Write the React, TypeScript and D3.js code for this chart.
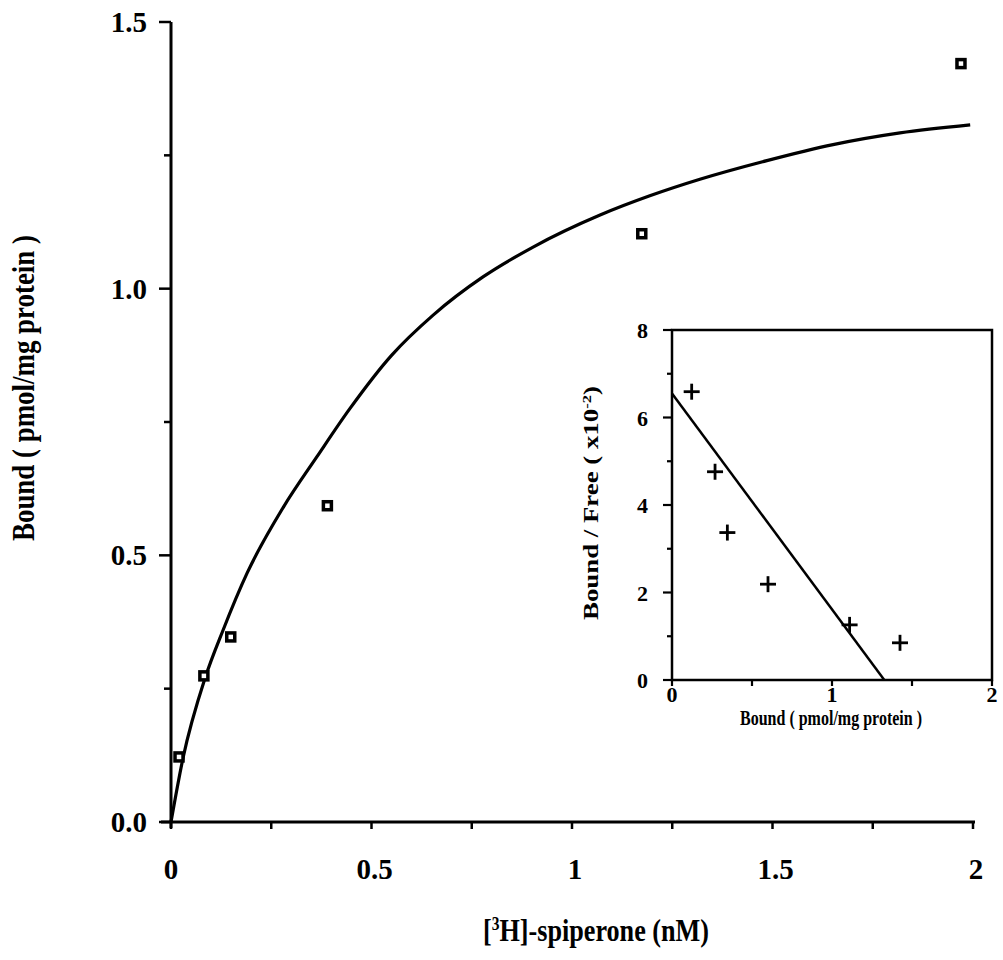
import React from "react";
import * as d3 from "d3";

// Saturation binding data: [3H]-spiperone (nM) vs bound (pmol/mg protein)
const concentration = [0.02, 0.082, 0.149, 0.39, 1.174, 1.97];
const bound = [0.122, 0.274, 0.347, 0.593, 1.103, 1.422];

// Fitted saturation curve, sampled along its length
const fitX = [0, 0.03, 0.085, 0.13, 0.19, 0.28, 0.364, 0.446, 0.55, 0.653, 0.778, 0.903, 1.07, 1.194, 1.319, 1.486, 1.651, 1.818, 1.993];
const fitY = [0, 0.12, 0.27, 0.36, 0.467, 0.59, 0.685, 0.775, 0.875, 0.95, 1.022, 1.078, 1.138, 1.174, 1.205, 1.24, 1.27, 1.292, 1.307];

// Scatchard transform (inset): bound vs bound/free (x10^-2)
const scatBound = [0.123, 0.269, 0.346, 0.6, 1.11, 1.425];
const scatRatio = [6.59, 4.76, 3.37, 2.19, 1.26, 0.85];
// Regression line end points
const scatLineX = [0, 1.327];
const scatLineY = [6.55, 0];

const mainXTicks = [0, 0.5, 1, 1.5, 2];
const mainXTickLabels = ["0", "0.5", "1", "1.5", "2"];
const mainYTicks = [0, 0.5, 1, 1.5];
const mainYTickLabels = ["0.0", "0.5", "1.0", "1.5"];
const insetXTicks = [0, 1, 2];
const insetYTicks = [0, 2, 4, 6, 8];

const FONT = "'Liberation Serif', 'DejaVu Serif', serif";

export default function App() {
  const x = d3.scaleLinear().domain([0, 2]).range([171, 973]);
  const y = d3.scaleLinear().domain([0, 1.5]).range([822, 22]);
  const xi = d3.scaleLinear().domain([0, 2]).range([672, 992]);
  const yi = d3.scaleLinear().domain([0, 8]).range([680, 330]);

  const fitPts: [number, number][] = fitX.map((v, i) => [v, fitY[i]]);
  const curve = d3
    .line<[number, number]>()
    .x((d) => x(d[0]))
    .y((d) => y(d[1]))
    .curve(d3.curveMonotoneX)(fitPts);

  const scatLine = d3
    .line<[number, number]>()
    .x((d) => xi(d[0]))
    .y((d) => yi(d[1]))(scatLineX.map((v, i) => [v, scatLineY[i]]));

  const mainXMinor = d3.range(0, 2.01, 0.25);
  const mainYMinor = d3.range(0, 1.51, 0.25);
  const insetXMinor = d3.range(0, 2.01, 0.5);
  const insetYMinor = d3.range(0, 8.01, 1);

  const sq = 8;

  return (
    <svg
      width={1003}
      height={960}
      style={{ position: "absolute", left: 0, top: 0, background: "#fff" }}
      fontFamily={FONT}
      fontWeight="bold"
    >
      {/* Main axes */}
      <line x1={x(0)} x2={x(0)} y1={y(1.5)} y2={y(0) + 6} stroke="#000" strokeWidth={3} />
      <line x1={x(0) - 10} x2={x(2) + 2} y1={y(0)} y2={y(0)} stroke="#000" strokeWidth={3} />
      {mainYMinor.map((t) => {
        const major = Math.abs(t * 2 - Math.round(t * 2)) < 1e-6;
        return (
          <line key={"my" + t} x1={x(0) - (major ? 12 : 7)} x2={x(0)} y1={y(t)} y2={y(t)} stroke="#000" strokeWidth={2.5} />
        );
      })}
      {mainXMinor.map((t) => (
        <line key={"mx" + t} x1={x(t)} x2={x(t)} y1={y(0)} y2={y(0) + 7} stroke="#000" strokeWidth={2.5} />
      ))}
      {mainYTicks.map((t, i) => (
        <text key={"myl" + t} x={147} y={y(t) + 10} textAnchor="end" fontSize={29}>
          {mainYTickLabels[i]}
        </text>
      ))}
      {mainXTicks.map((t, i) => (
        <text key={"mxl" + t} x={x(t) + (i === 0 ? 0 : 3)} y={879} textAnchor="middle" fontSize={29}>
          {mainXTickLabels[i]}
        </text>
      ))}
      <text x={483} y={941} fontSize={32} textLength={226} lengthAdjust="spacingAndGlyphs">
        [<tspan dy={-11} fontSize={19}>3</tspan>
        <tspan dy={11}>H]-spiperone (nM)</tspan>
      </text>
      <text
        transform="translate(34,388) rotate(-90)"
        textAnchor="middle"
        fontSize={32}
        textLength={306}
        lengthAdjust="spacingAndGlyphs"
      >
        Bound ( pmol/mg protein )
      </text>

      {/* Fitted saturation curve */}
      <path d={curve ?? ""} fill="none" stroke="#000" strokeWidth={3.2} />

      {/* Data points */}
      {concentration.map((c, i) => (
        <rect
          key={"pt" + i}
          x={x(c) - sq / 2}
          y={y(bound[i]) - sq / 2}
          width={sq}
          height={sq}
          fill="#fff"
          stroke="#000"
          strokeWidth={3.5}
        />
      ))}

      {/* Inset: Scatchard plot */}
      <rect x={xi(0)} y={yi(8)} width={xi(2) - xi(0)} height={yi(0) - yi(8)} fill="#fff" stroke="#000" strokeWidth={2.5} />
      {insetYMinor.map((t) => (
        <line key={"iy" + t} x1={xi(0) - (t % 2 === 0 ? 9 : 5)} x2={xi(0)} y1={yi(t)} y2={yi(t)} stroke="#000" strokeWidth={2.2} />
      ))}
      {insetXMinor.map((t) => (
        <line key={"ix" + t} x1={xi(t)} x2={xi(t)} y1={yi(0)} y2={yi(0) + 6} stroke="#000" strokeWidth={2.2} />
      ))}
      {insetYTicks.map((t) => (
        <text key={"iyl" + t} x={648} y={yi(t) + 8} textAnchor="end" fontSize={22}>
          {t}
        </text>
      ))}
      {insetXTicks.map((t) => (
        <text key={"ixl" + t} x={xi(t)} y={702} textAnchor="middle" fontSize={22}>
          {t}
        </text>
      ))}
      <text x={831} y={725} textAnchor="middle" fontSize={21} textLength={182} lengthAdjust="spacingAndGlyphs">
        Bound ( pmol/mg protein )
      </text>
      <text
        transform="translate(598,503) rotate(-90)"
        textAnchor="middle"
        fontSize={21}
        textLength={234}
        lengthAdjust="spacingAndGlyphs"
      >
        Bound / Free ( x10<tspan dy={-7} fontSize={13}>-2</tspan>
        <tspan dy={7}>)</tspan>
      </text>
      <path d={scatLine ?? ""} fill="none" stroke="#000" strokeWidth={2.5} />
      {scatBound.map((b, i) => (
        <g key={"sp" + i} stroke="#000" strokeWidth={2.8}>
          <line x1={xi(b) - 8} x2={xi(b) + 8} y1={yi(scatRatio[i])} y2={yi(scatRatio[i])} />
          <line x1={xi(b)} x2={xi(b)} y1={yi(scatRatio[i]) - 8} y2={yi(scatRatio[i]) + 8} />
        </g>
      ))}
    </svg>
  );
}
